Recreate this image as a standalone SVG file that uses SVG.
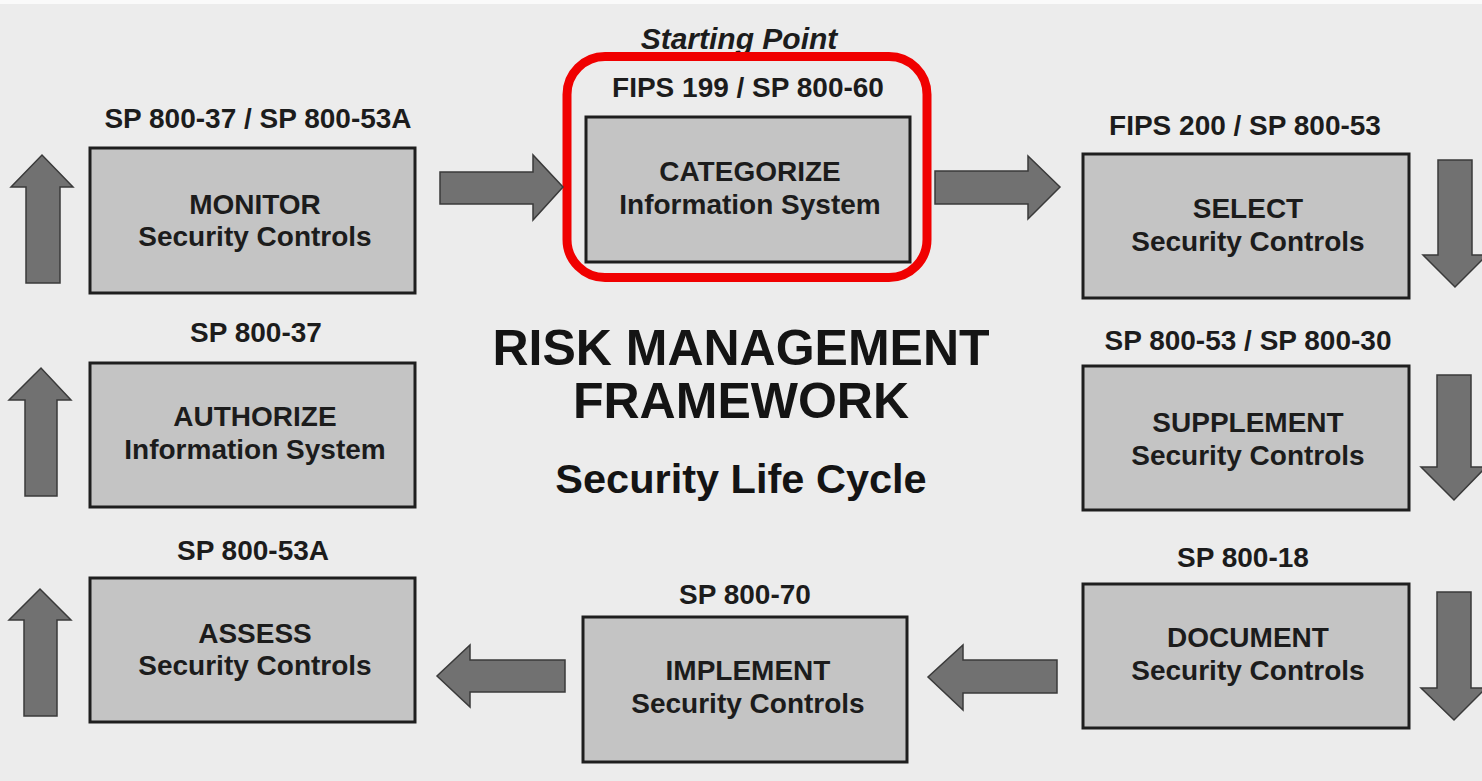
<svg xmlns="http://www.w3.org/2000/svg" width="1482" height="781" viewBox="0 0 1482 781">
  <defs>
    <style>
      .box { fill: #c4c4c4; stroke: #1e1e1e; stroke-width: 3; }
      .arrow { fill: #717171; stroke: #3a3a3a; stroke-width: 1.5; stroke-linejoin: miter; }
      .ref { font-family: "Liberation Sans", Arial, sans-serif; font-weight: bold; font-size: 28px; fill: #1c1c1c; text-anchor: middle; }
      .lbl { font-family: "Liberation Sans", Arial, sans-serif; font-weight: bold; font-size: 28px; fill: #1c1c1c; text-anchor: middle; }
      .title { font-family: "Liberation Sans", Arial, sans-serif; font-weight: bold; font-size: 50px; fill: #141414; text-anchor: middle; }
      .sub { font-family: "Liberation Sans", Arial, sans-serif; font-weight: bold; font-size: 41.5px; fill: #141414; text-anchor: middle; }
      .start { font-family: "Liberation Sans", Arial, sans-serif; font-weight: bold; font-style: italic; font-size: 30px; fill: #1c1c1c; text-anchor: middle; }
      .highlight { fill: none; stroke: #f00000; stroke-width: 9; }
    </style>
  </defs>

  <!-- canvas -->
  <rect x="0" y="0" width="1482" height="781" fill="#ececec"/>
  <rect x="0" y="0" width="1482" height="4" fill="#fafafa"/>

  <!-- centre title -->
  <g id="title">
    <text class="title" x="741" y="365">RISK MANAGEMENT</text>
    <text class="title" x="741" y="418">FRAMEWORK</text>
    <text class="sub" x="741" y="493">Security Life Cycle</text>
  </g>

  <!-- step boxes -->
  <g id="categorize">
    <text class="start" x="739" y="49">Starting Point</text>
    <rect class="highlight" x="567" y="56.5" width="360" height="221" rx="38"/>
    <text class="ref" x="748" y="97">FIPS 199 / SP 800-60</text>
    <rect class="box" x="586" y="117" width="324" height="145"/>
    <text class="lbl" x="750" y="181">CATEGORIZE</text>
    <text class="lbl" x="750" y="214">Information System</text>
  </g>

  <g id="select">
    <text class="ref" x="1245" y="135">FIPS 200 / SP 800-53</text>
    <rect class="box" x="1083" y="154" width="326" height="144"/>
    <text class="lbl" x="1248" y="218">SELECT</text>
    <text class="lbl" x="1248" y="251">Security Controls</text>
  </g>

  <g id="supplement">
    <text class="ref" x="1248" y="350">SP 800-53 / SP 800-30</text>
    <rect class="box" x="1083" y="366" width="326" height="144"/>
    <text class="lbl" x="1248" y="432">SUPPLEMENT</text>
    <text class="lbl" x="1248" y="465">Security Controls</text>
  </g>

  <g id="document">
    <text class="ref" x="1243" y="567">SP 800-18</text>
    <rect class="box" x="1083" y="584" width="326" height="144"/>
    <text class="lbl" x="1248" y="647">DOCUMENT</text>
    <text class="lbl" x="1248" y="680">Security Controls</text>
  </g>

  <g id="implement">
    <text class="ref" x="745" y="604">SP 800-70</text>
    <rect class="box" x="583" y="617" width="324" height="145"/>
    <text class="lbl" x="748" y="680">IMPLEMENT</text>
    <text class="lbl" x="748" y="713">Security Controls</text>
  </g>

  <g id="assess">
    <text class="ref" x="253" y="560">SP 800-53A</text>
    <rect class="box" x="90" y="578" width="325" height="144"/>
    <text class="lbl" x="255" y="643">ASSESS</text>
    <text class="lbl" x="255" y="675">Security Controls</text>
  </g>

  <g id="authorize">
    <text class="ref" x="256" y="342">SP 800-37</text>
    <rect class="box" x="90" y="363" width="325" height="144"/>
    <text class="lbl" x="255" y="426">AUTHORIZE</text>
    <text class="lbl" x="255" y="459">Information System</text>
  </g>

  <g id="monitor">
    <text class="ref" x="258" y="128">SP 800-37 / SP 800-53A</text>
    <rect class="box" x="90" y="148" width="325" height="145"/>
    <text class="lbl" x="255" y="214">MONITOR</text>
    <text class="lbl" x="255" y="246">Security Controls</text>
  </g>

  <!-- block arrows between steps -->
  <g id="connectors">
    <path class="arrow" d="M440,172 L533,172 L533,155 L563,187 L533,220 L533,204 L440,204 Z"/>
    <path class="arrow" d="M935,171 L1028,171 L1028,156 L1060,187 L1028,219 L1028,204 L935,204 Z"/>
    <path class="arrow" d="M1438,160 L1472,160 L1472,255 L1487,255 L1455,287 L1423,255 L1438,255 Z"/>
    <path class="arrow" d="M1437,375 L1471,375 L1471,467 L1486,467 L1454,500 L1421,467 L1437,467 Z"/>
    <path class="arrow" d="M1437,592 L1471,592 L1471,688 L1486,688 L1454,720 L1421,688 L1437,688 Z"/>
    <path class="arrow" d="M1057,660 L963,660 L963,645 L928,677 L963,710 L963,693 L1057,693 Z"/>
    <path class="arrow" d="M565,660 L470,660 L470,645 L437,676 L470,707 L470,692 L565,692 Z"/>
    <path class="arrow" d="M24,716 L57,716 L57,620 L71,620 L40,589 L9,620 L24,620 Z"/>
    <path class="arrow" d="M25,496 L57,496 L57,400 L71,400 L41,368 L9,400 L25,400 Z"/>
    <path class="arrow" d="M26,283 L60,283 L60,187 L73,187 L42,155 L11,187 L26,187 Z"/>
  </g>
</svg>
